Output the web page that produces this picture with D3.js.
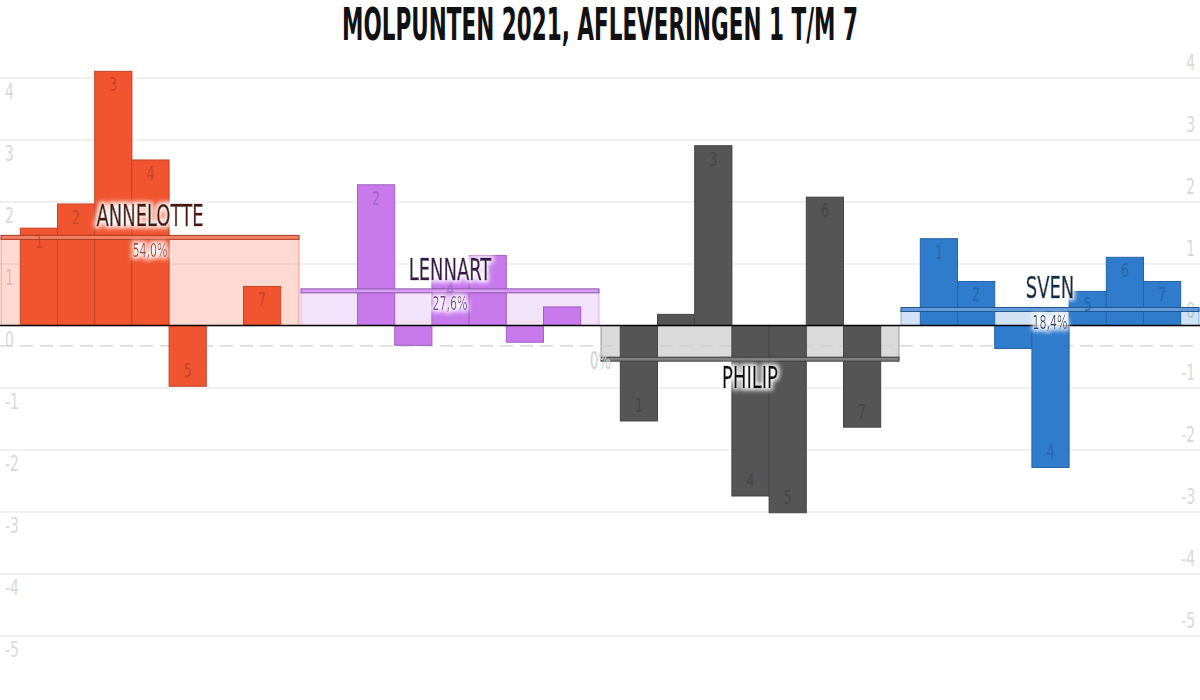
<!DOCTYPE html>
<html><head><meta charset="utf-8">
<script src="https://cdn.jsdelivr.net/npm/d3@7"></script>
<style>html,body{margin:0;padding:0;background:#fff;} svg{display:block;}</style>
</head><body><svg id="chart" width="1200" height="700"></svg>
<script>
// ---- data ----
const contestants = ["ANNELOTTE", "LENNART", "PHILIP", "SVEN"];
const episodes = [1, 2, 3, 4, 5, 6, 7];
const annelotte = [1.57, 1.96, 4.10, 2.67, -0.98, 0, 0.63];
const lennart   = [0, 2.27, -0.32, 0.80, 1.13, -0.27, 0.30];
const philip    = [-1.54, 0.18, 2.90, -2.75, -3.02, 2.07, -1.64];
const sven      = [1.40, 0.71, -0.37, -2.29, 0.55, 1.10, 0.71];
const shares = ["54,0%", "27,6%", "0%", "18,4%"];
const yTicks = [4, 3, 2, 1, 0, -1, -2, -3, -4, -5];
const referenceValue = -0.33;
const titleText = "MOLPUNTEN 2021, AFLEVERINGEN 1 T/M 7";

// ---- styles ----
const barColors   = ["#f05530", "#c87aed", "#555555", "#2f7bcc"];
const nameColors  = ["#4a1408", "#3a1848", "#111111", "#0c2a4a"];
const shareColors = ["#a8402a", "#7a4898", "#cfcfcf", "#1c3e6e"];
const FONT = "'Liberation Sans Narrow','DejaVu Sans Condensed','Arial Narrow',sans-serif";

const series = [annelotte, lennart, philip, sven];
const W = 1200, H = 700;
const svg = d3.select("#chart");

function condense(sel, k) {
  sel.each(function() {
    const w = this.getComputedTextLength();
    d3.select(this).attr("textLength", w * k).attr("lengthAdjust", "spacingAndGlyphs");
  });
}

const defs = svg.append("defs");
const f = defs.append("filter").attr("id", "halo").attr("x", "-20%").attr("y", "-50%").attr("width", "140%").attr("height", "200%");
f.append("feMorphology").attr("in", "SourceAlpha").attr("operator", "dilate").attr("radius", 1.5).attr("result", "d");
f.append("feGaussianBlur").attr("in", "d").attr("stdDeviation", 2).attr("result", "b");
f.append("feFlood").attr("flood-color", "#fff").attr("flood-opacity", 0.95);
f.append("feComposite").attr("in2", "b").attr("operator", "in").attr("result", "glow");
const fm = f.append("feMerge");
fm.append("feMergeNode").attr("in", "glow");
fm.append("feMergeNode").attr("in", "SourceGraphic");

const x0 = d3.scaleBand().domain(contestants).range([0, W]);
const x1 = d3.scaleBand().domain(episodes).range([20.3, 280.7]);
const y = d3.scaleLinear().domain([-5, 4]).range([635.5, 77.5]);

// gridlines
const grid = svg.append("g").call(d3.axisRight(y).tickValues(yTicks).tickSize(W).tickFormat(""));
grid.select(".domain").remove();
grid.selectAll("line").attr("stroke", "#e3e3e3").attr("stroke-width", 1);

// axis labels left
const axL = svg.append("g").call(d3.axisRight(y).tickValues(yTicks).tickSize(0).tickPadding(5).tickFormat(d => String(d)));
axL.select(".domain").remove();
axL.selectAll("text").attr("y", 13.5).attr("dy", "0.35em").attr("fill", "#d9d9d9")
  .attr("font-family", FONT).attr("font-size", 22);
condense(axL.selectAll("text"), 0.7);
// axis labels right
const axR = svg.append("g").attr("transform", `translate(${W},0)`)
  .call(d3.axisLeft(y).tickValues(yTicks).tickSize(0).tickPadding(5).tickFormat(d => String(d)));
axR.select(".domain").remove();
axR.selectAll("text").attr("y", -16).attr("dy", "0.35em").attr("fill", "#d9d9d9")
  .attr("font-family", FONT).attr("font-size", 22);
condense(axR.selectAll("text"), 0.7);

const groups = contestants.map((name, gi) => ({
  name, gi, values: series[gi], mean: d3.mean(series[gi]), share: shares[gi]
}));

// summary fills
svg.append("g").selectAll("rect").data(groups).join("rect")
  .attr("x", d => x0(d.name) + 1)
  .attr("width", x0.bandwidth() - 2)
  .attr("y", d => Math.min(y(d.mean), y(0)))
  .attr("height", d => Math.abs(y(d.mean) - y(0)))
  .attr("fill", d => barColors[d.gi]).attr("fill-opacity", 0.22)
  .attr("stroke", d => barColors[d.gi]).attr("stroke-opacity", 0.55);

// reference dashed line
svg.append("line").attr("x1", 0).attr("x2", W).attr("y1", y(referenceValue)).attr("y2", y(referenceValue))
  .attr("stroke", "#cfcfcf").attr("stroke-width", 1.2).attr("stroke-dasharray", "13,7");

// bars
const barData = groups.flatMap(g => g.values.map((v, i) => ({ g, ep: episodes[i], v })));
svg.append("g").selectAll("rect").data(barData.filter(d => d.v !== 0)).join("rect")
  .attr("x", d => x0(d.g.name) + x1(d.ep))
  .attr("width", x1.bandwidth())
  .attr("y", d => Math.min(y(d.v), y(0)))
  .attr("height", d => Math.abs(y(d.v) - y(0)))
  .attr("fill", d => barColors[d.g.gi])
  .attr("stroke", d => d3.color(barColors[d.g.gi]).darker(0.6))
  .attr("stroke-width", 1);

// baseline
svg.append("line").attr("x1", 0).attr("x2", W).attr("y1", y(0)).attr("y2", y(0))
  .attr("stroke", "#000").attr("stroke-width", 1.5);

// summary lines
svg.append("g").selectAll("rect").data(groups).join("rect")
  .attr("x", d => x0(d.name) + 1)
  .attr("width", x0.bandwidth() - 2)
  .attr("y", d => y(d.mean) - 2)
  .attr("height", 4)
  .attr("fill", d => d3.interpolateRgb(barColors[d.gi], "#fff")(0.25))
  .attr("stroke", d => d3.color(barColors[d.gi]).darker(1))
  .attr("stroke-width", 1);

// bar labels
const barLabels = svg.append("g").selectAll("text").data(barData.filter(d => Math.abs(y(d.v) - y(0)) > 30)).join("text")
  .attr("x", d => x0(d.g.name) + x1(d.ep) + x1.bandwidth() / 2)
  .attr("y", d => d.v > 0 ? y(d.v) + 13 : y(d.v) - 16)
  .attr("dy", "0.35em")
  .attr("text-anchor", "middle")
  .attr("font-family", FONT).attr("font-size", 20)
  .attr("fill", d => d3.color(barColors[d.g.gi]).darker(0.7))
  .attr("fill-opacity", 0.8)
  .text(d => d.ep);
condense(barLabels, 0.7);

// names
const names = svg.append("g").selectAll("text").data(groups).join("text")
  .attr("x", d => x0(d.name) + x0.bandwidth() / 2)
  .attr("y", d => d.mean >= 0 ? y(d.mean) - 22 : y(d.mean) + 18)
  .attr("dy", "0.36em")
  .attr("text-anchor", "middle")
  .attr("font-family", FONT).attr("font-size", 30)
  .attr("fill", d => nameColors[d.gi])
  .attr("stroke", d => nameColors[d.gi]).attr("stroke-width", 0.7)
  .attr("filter", "url(#halo)")
  .text(d => d.name);
let kName = 1;
names.each(function(d) { if (d.gi === 0) kName = 107 / this.getComputedTextLength(); });
condense(names, kName);

// shares
const shareText = svg.append("g").selectAll("text").data(groups).join("text")
  .attr("x", d => d.mean >= 0 ? x0(d.name) + x0.bandwidth() / 2 : x0(d.name) + 11)
  .attr("y", d => d.mean >= 0 ? y(d.mean) + 12 : y(d.mean) + 1)
  .attr("dy", "0.36em")
  .attr("text-anchor", d => d.mean >= 0 ? "middle" : "end")
  .attr("font-family", FONT).attr("font-size", d => d.mean >= 0 ? 20 : 24)
  .attr("fill", d => shareColors[d.gi])
  .attr("filter", d => d.mean >= 0 ? "url(#halo)" : null)
  .text(d => d.share);
let kShare = 1;
shareText.each(function(d) { if (d.gi === 0) kShare = 35 / this.getComputedTextLength(); });
condense(shareText, kShare);

// title (horizontally condensed with a transform)
const titleG = svg.append("g");
const title = titleG.append("text")
  .attr("x", 0).attr("y", 0)
  .attr("text-anchor", "middle")
  .attr("font-family", FONT).attr("font-size", 44).attr("font-weight", "bold")
  .attr("fill", "#111")
  .text(titleText);
const kTitle = 516 / title.node().getComputedTextLength();
titleG.attr("transform", `translate(${W / 2},40) scale(${kTitle},1)`);
</script>
</body></html>
